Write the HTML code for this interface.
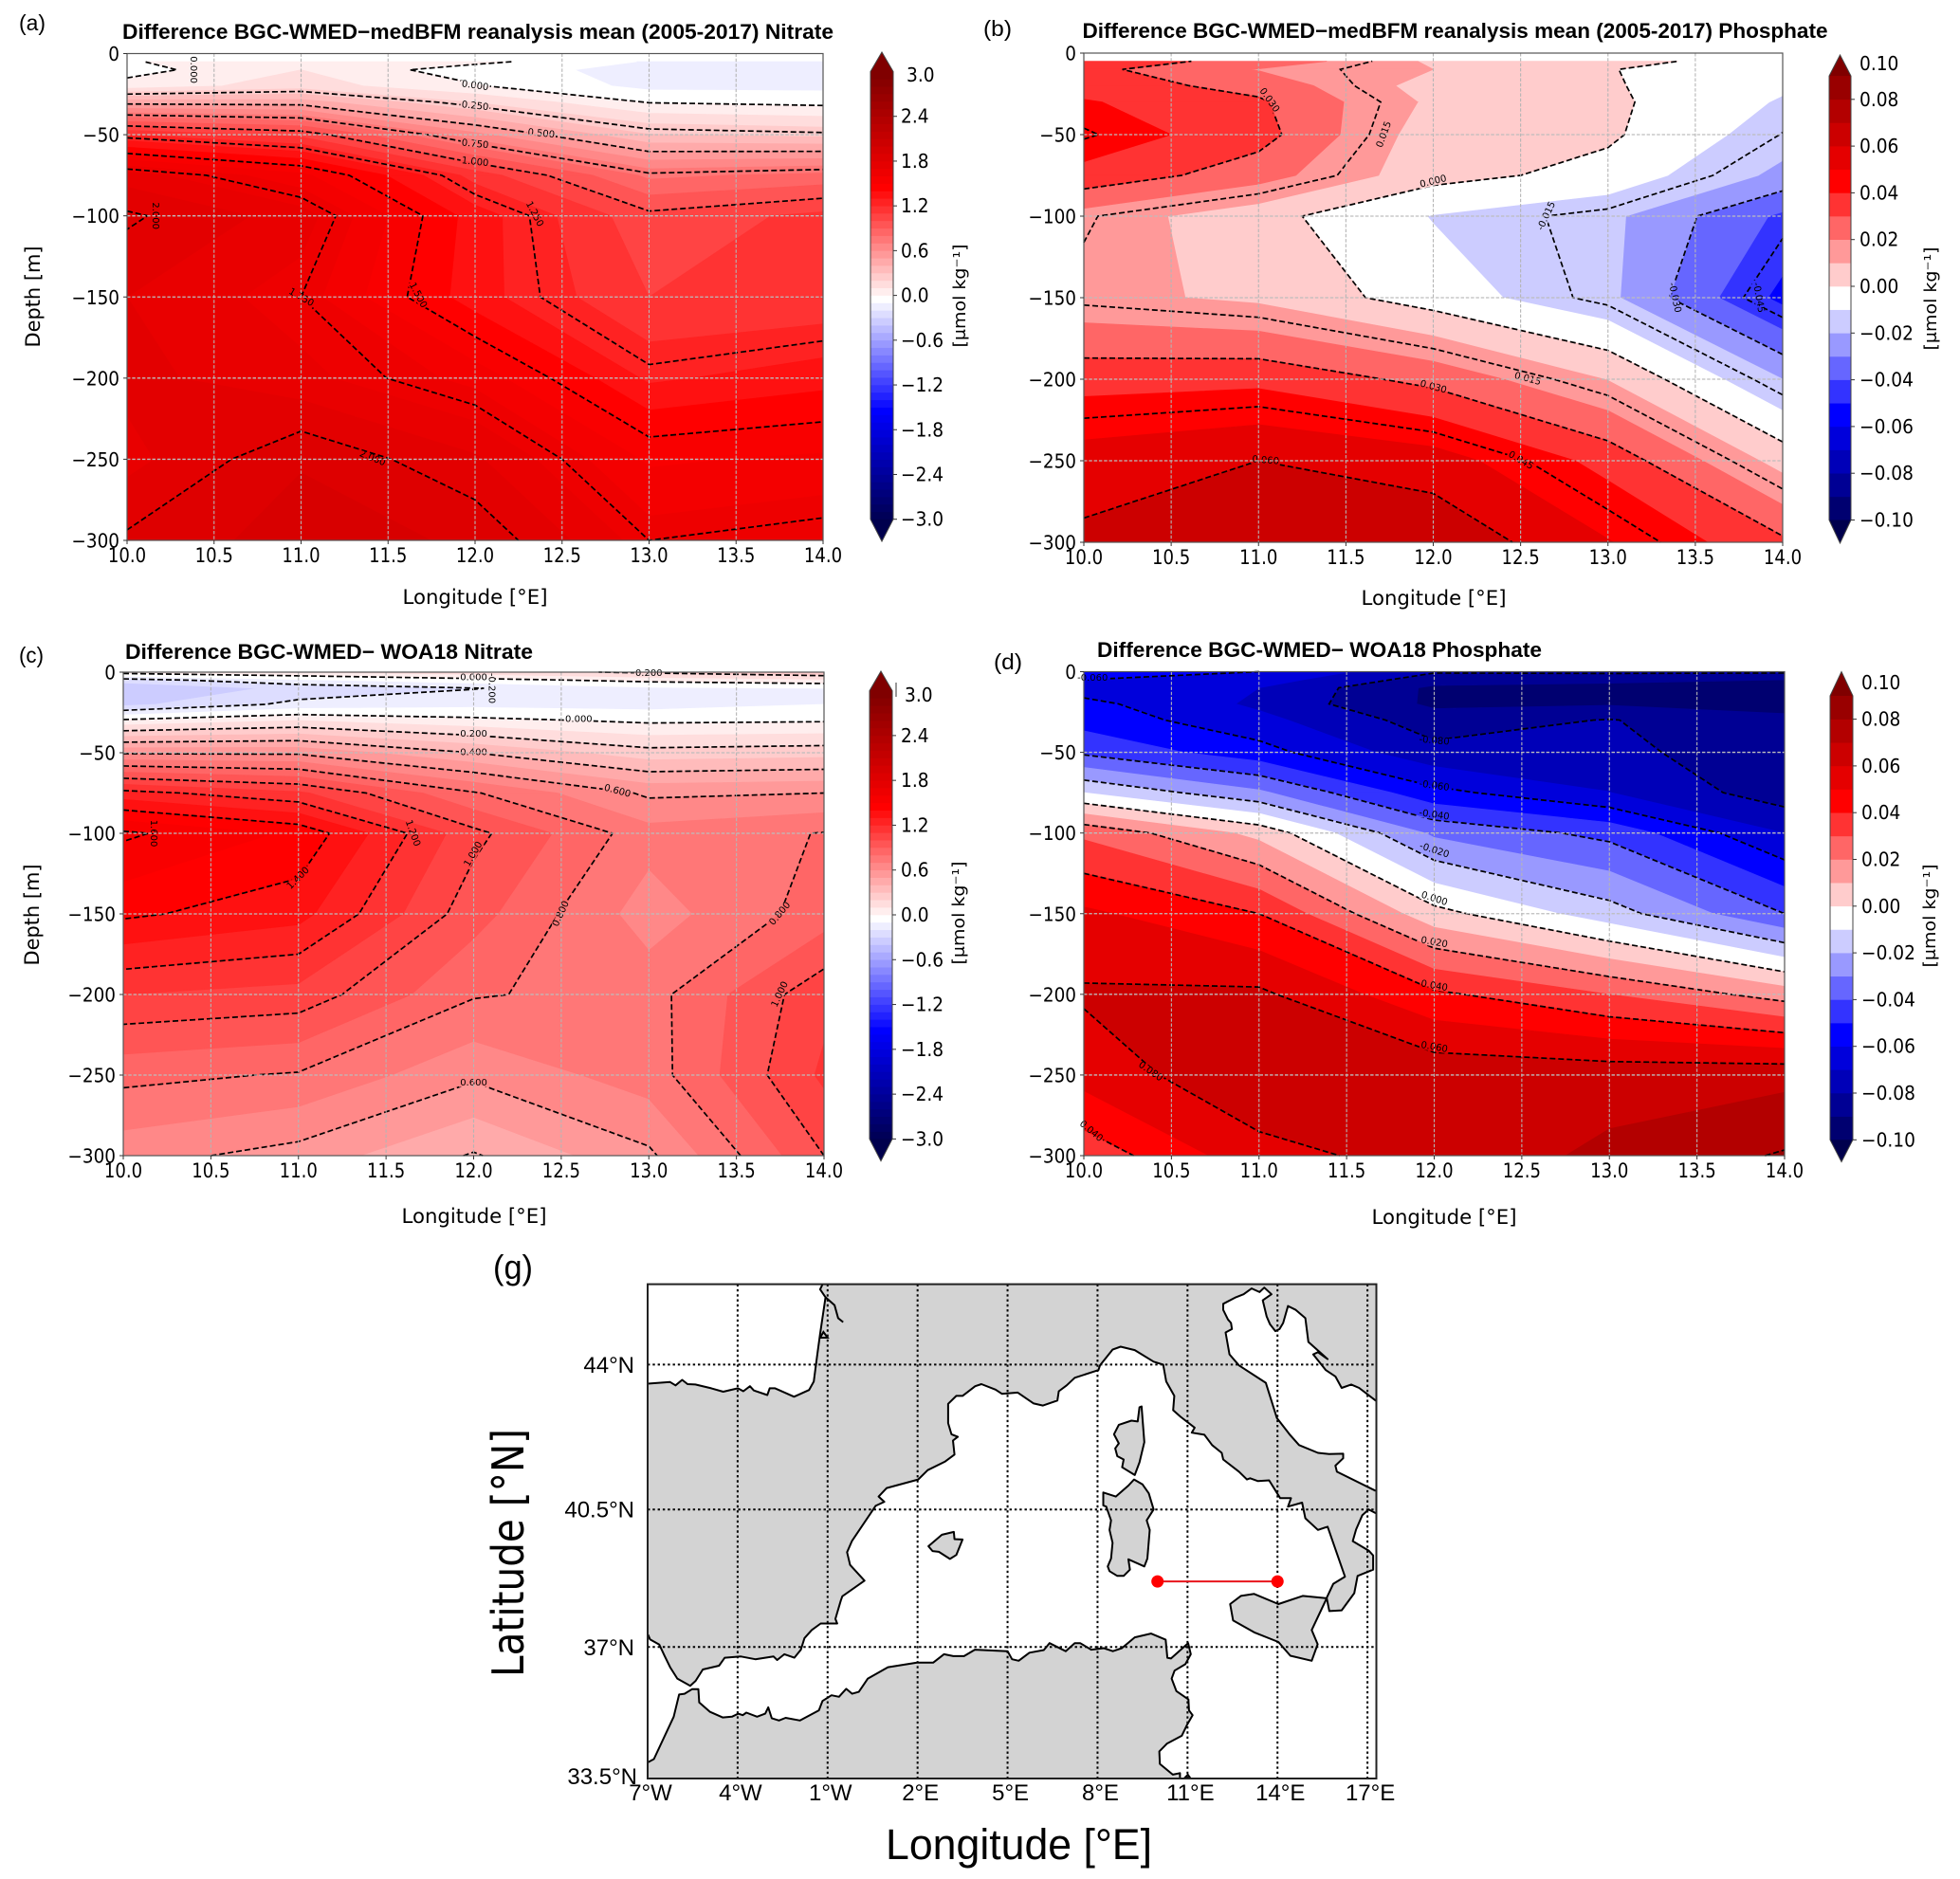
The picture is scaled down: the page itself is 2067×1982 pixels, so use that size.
<!DOCTYPE html>
<html lang="en">
<head>
<meta charset="utf-8">
<title>Nitrate and phosphate difference sections with location map</title>
<style>
html,body{margin:0;padding:0;background:#fff;}
svg{display:block;}
text{fill:#000;}
</style>
</head>
<body>
<svg id="figure" xmlns="http://www.w3.org/2000/svg" width="2067" height="1982" viewBox="0 0 2067 1982">
<rect x="0" y="0" width="2067" height="1982" fill="#fff"/>
<g id="panels"></g>
<g id="map"></g>
<line x1="945" x2="945" y1="720" y2="735" stroke="#333" stroke-width="1"/>

<g font-family="'Liberation Sans',sans-serif" font-weight="bold" font-size="22">
<text x="129" y="41" textLength="750" lengthAdjust="spacingAndGlyphs">Difference BGC-WMED−medBFM reanalysis mean (2005-2017) Nitrate</text>
<text x="1141.5" y="40" textLength="786" lengthAdjust="spacingAndGlyphs">Difference BGC-WMED−medBFM reanalysis mean (2005-2017) Phosphate</text>
<text x="132" y="695" textLength="430" lengthAdjust="spacingAndGlyphs">Difference BGC-WMED− WOA18 Nitrate</text>
<text x="1157" y="693" textLength="469" lengthAdjust="spacingAndGlyphs">Difference BGC-WMED− WOA18 Phosphate</text>
</g>
<g font-family="'Liberation Sans',sans-serif" font-size="23">
<text x="20" y="32" textLength="28" lengthAdjust="spacingAndGlyphs">(a)</text>
<text x="1037" y="38" textLength="30" lengthAdjust="spacingAndGlyphs">(b)</text>
<text x="20" y="699" textLength="26" lengthAdjust="spacingAndGlyphs">(c)</text>
<text x="1048" y="706" textLength="30" lengthAdjust="spacingAndGlyphs">(d)</text>
<text x="520" y="1349" font-size="36" textLength="42" lengthAdjust="spacingAndGlyphs">(g)</text>
</g>
<g font-family="'DejaVu Sans',sans-serif" font-size="21">
<text text-anchor="middle" transform="translate(42,313) rotate(-90)" textLength="107" lengthAdjust="spacingAndGlyphs">Depth [m]</text>
<text text-anchor="middle" transform="translate(41,965) rotate(-90)" textLength="107" lengthAdjust="spacingAndGlyphs">Depth [m]</text>
<text text-anchor="middle" x="501" y="637" textLength="153" lengthAdjust="spacingAndGlyphs">Longitude [°E]</text>
<text text-anchor="middle" x="1512" y="638" textLength="153" lengthAdjust="spacingAndGlyphs">Longitude [°E]</text>
<text text-anchor="middle" x="500" y="1290" textLength="153" lengthAdjust="spacingAndGlyphs">Longitude [°E]</text>
<text text-anchor="middle" x="1523" y="1291" textLength="153" lengthAdjust="spacingAndGlyphs">Longitude [°E]</text>
</g>
<g font-family="'DejaVu Sans',sans-serif" font-size="18">
<text text-anchor="middle" transform="translate(1018,312) rotate(-90)" textLength="109" lengthAdjust="spacingAndGlyphs">[μmol kg⁻¹]</text>
<text text-anchor="middle" transform="translate(2042,315) rotate(-90)" textLength="109" lengthAdjust="spacingAndGlyphs">[μmol kg⁻¹]</text>
<text text-anchor="middle" transform="translate(1017,963) rotate(-90)" textLength="109" lengthAdjust="spacingAndGlyphs">[μmol kg⁻¹]</text>
<text text-anchor="middle" transform="translate(2041,966) rotate(-90)" textLength="109" lengthAdjust="spacingAndGlyphs">[μmol kg⁻¹]</text>
</g>
<text font-family="'Liberation Sans',sans-serif" font-size="45" x="934" y="1961" textLength="281" lengthAdjust="spacingAndGlyphs">Longitude [°E]</text>
<text font-family="'DejaVu Sans',sans-serif" font-size="46" text-anchor="middle" transform="translate(552,1638) rotate(-90)" textLength="262" lengthAdjust="spacingAndGlyphs">Latitude [°N]</text>
</svg>

<script>
/* ---------- section data: rows = depth, columns = longitude ---------- */
const longitudes = [10, 11, 12, 13, 14];
const depthsFromFive = [5, 10, 20, 30, 50, 75, 100, 150, 200, 250, 300];
const depthsFromSurface = [0, 5, 10, 20, 30, 50, 75, 100, 150, 200, 250, 300];

const nitrateReanalysisDiff = [
  [-0.01, 0.09, 0.03, -0.11, -0.11],
  [-0.04, 0.1, -0.06, -0.13, -0.13],
  [0.04, 0.15, 0.01, -0.13, -0.13],
  [0.46, 0.45, 0.196, -0.005, -0.03],
  [1.2, 1.07, 0.63, 0.305, 0.27],
  [1.85, 1.63, 1.16, 0.775, 0.83],
  [2.02, 1.85, 1.35, 1.03, 1.13],
  [1.9, 1.75, 1.34, 1.1, 1.12],
  [1.93, 1.83, 1.667, 1.28, 1.36],
  [1.865, 2.09, 1.917, 1.583, 1.62],
  [2.02, 2.15, 2.083, 1.75, 1.8]
];
const phosphateReanalysisDiff = [
  [0.034, 0.0275, 0.0083, 0.002, -0.003],
  [0.033, 0.0194, 0.01, 0.0004, -0.006],
  [0.035, 0.0267, 0.0054, 0.001, -0.0085],
  [0.041, 0.0315, 0.0079, 0.002, -0.011],
  [0.046, 0.034, 0.004, 0.0016, -0.0153],
  [0.037, 0.0245, 0.0034, -0.0034, -0.0227],
  [0.016, 0.0035, -0.0105, -0.0175, -0.042],
  [0.0129, 0.0079, -0.005, -0.0175, -0.053],
  [0.036, 0.0374, 0.027, 0.0096, -0.02],
  [0.0548, 0.06, 0.0548, 0.0366, 0.006],
  [0.0622, 0.069, 0.0678, 0.0506, 0.032]
];
const nitrateWoaDiff = [
  [0.05, 0.1, 0.15, 0.22, 0.3],
  [-0.25, -0.12, -0.04, 0.03, 0.07],
  [-0.4, -0.27, -0.205, -0.12, -0.1],
  [-0.33, -0.17, -0.13, -0.14, -0.1],
  [0.02, 0.1, 0.03, -0.02, -0.01],
  [0.585, 0.58, 0.4, 0.24, 0.26],
  [1.24, 1.12, 0.81, 0.58, 0.6],
  [1.62, 1.48, 1.03, 0.74, 0.805],
  [1.42, 1.337, 0.94, 0.65, 0.85],
  [1.1, 1.063, 0.81, 0.76, 1.07],
  [0.83, 0.79, 0.62, 0.75, 1.12],
  [0.64, 0.56, 0.39, 0.58, 1.0]
];
const phosphateWoaDiff = [
  [-0.052, -0.06, -0.079, -0.078, -0.078],
  [-0.06, -0.065, -0.085, -0.087, -0.09],
  [-0.065, -0.07, -0.092, -0.094, -0.095],
  [-0.057, -0.072, -0.092, -0.091, -0.093],
  [-0.054, -0.067, -0.085, -0.0795, -0.088],
  [-0.042, -0.056, -0.077, -0.0766, -0.088],
  [-0.01, -0.028, -0.057, -0.0698, -0.0855],
  [0.028, 0.007, -0.032, -0.043, -0.07],
  [0.052, 0.04, 0.0035, -0.0155, -0.04],
  [0.0613, 0.062, 0.042, 0.03, 0.0155],
  [0.054, 0.068, 0.067, 0.066, 0.067],
  [0.0334, 0.0566, 0.064, 0.072, 0.081]
];

const lineLevelsA = [0, 0.25, 0.5, 0.75, 1, 1.25, 1.5, 1.75, 2];
const lineLevelsB = [-0.045, -0.03, -0.015, 0, 0.015, 0.03, 0.045, 0.06];
const lineLevelsC = [-0.2, 0, 0.2, 0.4, 0.6, 0.8, 1, 1.2, 1.4, 1.6];
const lineLevelsD = [-0.08, -0.06, -0.04, -0.02, 0, 0.02, 0.04, 0.06, 0.08];

/* printed contour labels: text, longitude, depth, rotation in degrees */
const contourLabelsA = [
  ['0.000', 10.38, 10, 90], ['0.000', 12, 20, 8], ['0.250', 12, 32.5, 6], ['0.500', 12.38, 49.5, 6],
  ['0.750', 12, 56, 6], ['1.000', 12, 67, 6], ['1.250', 12.34, 99, 62], ['1.500', 11.67, 149, 62],
  ['1.750', 11, 150.5, 30], ['2.000', 10.16, 100, 90], ['2.000', 11.41, 249.6, 22]
];
const contourLabelsB = [
  ['0.030', 11.06, 29, 55], ['0.015', 11.72, 50, -70], ['0.000', 12, 79, -14], ['-0.015', 12.65, 100, -65],
  ['-0.030', 13.38, 150, 78], ['-0.045', 13.86, 150, 80], ['0.015', 12.54, 200, 15], ['0.030', 12, 205, 15],
  ['0.045', 12.5, 250, 30], ['0.060', 11.04, 250, 5]
];
const contourLabelsC = [
  ['0.000', 12, 3.5, 0], ['-0.200', 12.1, 10, 90], ['0.200', 13, 1, 0], ['0.000', 12.6, 29.5, 0],
  ['0.200', 12, 38.5, 0], ['0.400', 12, 50, 0], ['0.600', 12.82, 74, 15], ['1.600', 10.17, 100, 90],
  ['1.400', 11, 128, -45], ['1.200', 11.65, 100, 70], ['1.000', 12, 113, -60], ['0.800', 12.5, 150, -65],
  ['0.800', 13.75, 150, -50], ['1.000', 13.75, 200, -65], ['0.600', 12, 255, 0]
];
const contourLabelsD = [
  ['-0.060', 10.05, 4, 0], ['-0.080', 12, 43, 5], ['-0.060', 12, 71, 8], ['-0.040', 12, 89, 8],
  ['-0.020', 12, 111, 18], ['0.000', 12, 141, 18], ['0.020', 12, 168, 10], ['0.040', 12, 195, 10],
  ['0.060', 12, 233, 10], ['0.080', 10.38, 248, 35], ['0.040', 10.04, 285, 40]
];

const lonTickValues = [10, 10.5, 11, 11.5, 12, 12.5, 13, 13.5, 14];
const depthTickValues = [0, 50, 100, 150, 200, 250, 300];
const nitrateBarTicks = [3, 2.4, 1.8, 1.2, 0.6, 0, -0.6, -1.2, -1.8, -2.4, -3];
const phosphateBarTicks = [0.1, 0.08, 0.06, 0.04, 0.02, 0, -0.02, -0.04, -0.06, -0.08, -0.1];

/* ---------- map data in degrees ---------- */
const mapLonTicks = [-7, -4, -1, 2, 5, 8, 11, 14, 17];
const mapLatTicks = [44, 40.5, 37, 33.5];
const transectLons = [10, 14];
const transectLats = [38.69, 38.69];

const coastEurope = [[-8,43.55],[-6.99,43.55],[-6.25,43.59],[-6.07,43.51],[-5.85,43.64],[-5.67,43.54],[-5.41,43.53],[-4.88,43.44],[-4.48,43.36],[-3.99,43.44],[-3.81,43.37],[-3.59,43.49],[-3.46,43.39],[-3.01,43.28],[-2.93,43.44],[-2.75,43.44],[-2.12,43.24],[-1.62,43.4],[-1.46,43.6],[-1.35,44.2],[-1.25,44.72],[-1.07,45.56],[-1.25,45.74],[-1.14,45.9],[-1.14,46.5],[18,46.5],[18,43.15],[17.27,43.15],[16.72,43.45],[16.46,43.53],[16.14,43.45],[15.93,43.72],[15.61,43.87],[15.19,44.24],[15.35,44.29],[15.67,44.13],[15.03,44.53],[14.93,45.08],[14.61,45.27],[14.35,45.36],[14.19,44.97],[14.07,44.83],[13.93,44.78],[13.75,44.94],[13.64,45.12],[13.51,45.49],[13.8,45.63],[13.56,45.78],[13.4,45.68],[13.14,45.76],[12.87,45.63],[12.61,45.56],[12.19,45.41],[12.19,45.27],[12.35,45.05],[12.45,44.97],[12.48,44.83],[12.27,44.75],[12.4,44.24],[12.72,43.98],[13.61,43.57],[13.98,42.73],[14.4,42.34],[14.72,42.08],[15.35,41.89],[15.72,41.86],[16.19,41.87],[16.19,41.76],[15.93,41.58],[15.98,41.43],[17.25,40.97],[18,40.97],[18,40.4],[17.3,40.4],[17.04,40.5],[16.83,40.36],[16.62,40],[16.51,39.71],[17.04,39.47],[17.19,39.35],[17.19,38.99],[16.67,38.83],[16.56,38.39],[16.14,37.95],[15.73,37.93],[15.64,38.27],[15.86,38.63],[16.25,38.81],[15.67,40.07],[15.35,39.99],[14.93,40.28],[14.82,40.67],[14.35,40.57],[14.45,40.78],[14.09,40.78],[13.72,41.22],[13.35,41.2],[13.09,41.27],[12.98,41.24],[12.72,41.43],[12.19,41.73],[12.14,41.89],[11.82,42.08],[11.56,42.33],[11.14,42.38],[11.24,42.5],[10.77,42.76],[10.52,42.92],[10.56,43.26],[10.29,43.6],[10.19,44],[9.87,44.07],[9.24,44.34],[8.77,44.42],[8.5,44.35],[8.08,43.98],[8.03,43.87],[7.24,43.69],[6.97,43.51],[6.71,43.37],[6.66,43.15],[6.18,43.03],[5.87,43.08],[5.34,43.34],[4.81,43.31],[4.6,43.41],[4.13,43.54],[3.92,43.49],[3.5,43.26],[3.29,43.26],[3.02,43.07],[3.02,42.61],[3.13,42.34],[3.34,42.28],[3.18,42.19],[3.23,41.85],[2.92,41.68],[2.34,41.47],[2.02,41.24],[0.97,41.03],[0.7,40.82],[0.89,40.69],[0.6,40.59],[-0.19,39.71],[-0.35,39.43],[-0.25,39.11],[0.23,38.71],[-0.51,38.31],[-0.56,38.2],[-0.74,37.73],[-0.68,37.61],[-1.23,37.61],[-1.53,37.44],[-1.77,37.23],[-1.89,36.93],[-2.11,36.72],[-2.44,36.81],[-2.68,36.66],[-2.8,36.75],[-3.41,36.68],[-3.89,36.75],[-4.43,36.72],[-4.62,36.51],[-5.16,36.41],[-5.4,36.11],[-5.58,35.98],[-6.01,36.17],[-6.25,36.47],[-6.43,36.76],[-6.61,37.06],[-6.92,37.2],[-6.98,37.31],[-8,37.31]];
const coastAfrica = [[-8,33.94],[-6.98,33.94],[-6.79,34.02],[-6.13,35.16],[-5.95,35.75],[-5.77,35.77],[-5.52,35.89],[-5.31,35.89],[-5.28,35.54],[-4.92,35.29],[-4.5,35.14],[-4.19,35.16],[-3.98,35.24],[-3.83,35.2],[-3.71,35.27],[-3.35,35.16],[-3.08,35.24],[-2.98,35.41],[-2.86,35.12],[-2.62,35.06],[-2.4,35.13],[-1.92,35.06],[-1.29,35.33],[-1.17,35.58],[-0.87,35.73],[-0.62,35.69],[-0.38,35.9],[-0.18,35.77],[0.04,35.82],[0.34,36.17],[1.01,36.47],[1.98,36.59],[2.52,36.59],[2.88,36.81],[3.19,36.76],[3.55,36.76],[3.91,36.93],[5,36.89],[5.15,36.68],[5.37,36.64],[5.73,36.85],[6.21,36.92],[6.4,37.1],[6.94,36.89],[7.24,37.1],[7.42,37.1],[7.79,36.93],[8.21,36.97],[8.51,36.89],[8.81,36.97],[9.24,37.25],[9.78,37.35],[10.27,37.19],[10.33,36.72],[10.45,36.7],[11.02,37.1],[11.11,36.81],[10.93,36.55],[10.57,36.38],[10.47,36.17],[10.63,35.84],[11.03,35.62],[11.05,35.33],[11.17,35.2],[10.99,34.95],[10.81,34.65],[10.32,34.44],[10.06,34.23],[10.08,33.89],[10.51,33.6],[10.75,33.64],[10.75,33],[-8,33]];
const coastCorsica = [[9.4,42.99],[9.47,43.01],[9.56,42.15],[9.4,41.66],[9.24,41.35],[8.82,41.54],[8.87,41.73],[8.66,41.81],[8.59,42],[8.71,42.12],[8.55,42.34],[8.71,42.57],[9.13,42.67],[9.34,42.65]];
const coastSardinia = [[9.22,41.24],[9.5,41.12],[9.71,40.9],[9.87,40.5],[9.64,40.23],[9.74,39.99],[9.66,39.27],[9.56,39.07],[9.03,39.25],[9.08,38.99],[8.87,38.83],[8.66,38.83],[8.4,38.95],[8.34,39.07],[8.45,39.27],[8.5,39.67],[8.4,39.99],[8.45,40.23],[8.29,40.57],[8.19,40.6],[8.19,40.92],[8.61,40.82],[9.03,41.09]];
const coastMallorca = [[2.36,39.58],[2.81,39.87],[3.21,39.94],[3.23,39.76],[3.5,39.75],[3.29,39.36],[3.08,39.26],[2.71,39.44],[2.5,39.46]];
const coastSicily = [[12.42,38.11],[12.78,38.32],[13.22,38.37],[14.03,38.11],[14.84,38.32],[15.64,38.26],[15.14,37.44],[15.34,37.07],[15.14,36.64],[14.43,36.77],[14.03,37.13],[13.22,37.38],[12.52,37.69]];
const coastDjerba = [[10.89,33.5],[11.01,33.6],[11.1,33.5]];
const estuaryGironde = [[-1.07,45.56],[-0.77,45.38],[-0.65,45.08],[-0.48,44.99]];
const lagoonArcachon = [[-1.25,44.63],[-1.14,44.76],[-1,44.63],[-1.25,44.63]];

/* ---------- helpers ---------- */
const NS = 'http://www.w3.org/2000/svg';
function make(tag, attrs, parent) {
  const el = document.createElementNS(NS, tag);
  for (const key in attrs) el.setAttribute(key, attrs[key]);
  parent.appendChild(el);
  return el;
}
function seismic(t) {
  t = Math.max(0, Math.min(1, t));
  let r, g, b;
  if (t < 0.25) { r = 0; g = 0; b = 0.3 + 0.7 * t / 0.25; }
  else if (t < 0.5) { const u = (t - 0.25) / 0.25; r = u; g = u; b = 1; }
  else if (t < 0.75) { const u = (t - 0.5) / 0.25; r = 1; g = 1 - u; b = 1 - u; }
  else { const u = (t - 0.75) / 0.25; r = 1 - 0.5 * u; g = 0; b = 0; }
  return 'rgb(' + Math.round(r * 255) + ',' + Math.round(g * 255) + ',' + Math.round(b * 255) + ')';
}
function bandColor(k, steps) { return seismic(0.5 + k / (2 * steps)); }
function fillColor(k, steps, warmFactor) {
  const half = steps / 2;
  const shown = k > half ? half + (k - half) * warmFactor : k;
  return bandColor(shown, steps);
}
function clipByLevel(poly, level, keepAbove) {
  const out = [];
  for (let i = 0; i < poly.length; i++) {
    const a = poly[i], b = poly[(i + 1) % poly.length];
    const aIn = keepAbove ? a.v >= level : a.v < level;
    const bIn = keepAbove ? b.v >= level : b.v < level;
    if (aIn) out.push(a);
    if (aIn !== bIn) {
      const t = (level - a.v) / (b.v - a.v);
      out.push({ lon: a.lon + t * (b.lon - a.lon), d: a.d + t * (b.d - a.d), v: level });
    }
  }
  return out;
}
function edgeCross(a, b, level) {
  if ((a.v >= level) === (b.v >= level)) return null;
  const t = (level - a.v) / (b.v - a.v);
  return { lon: a.lon + t * (b.lon - a.lon), d: a.d + t * (b.d - a.d) };
}
function chainSegments(segs) {
  const key = p => p.lon.toFixed(4) + '_' + p.d.toFixed(3);
  const index = {};
  segs.forEach((s, i) => {
    [s[0], s[1]].forEach(p => { (index[key(p)] = index[key(p)] || []).push(i); });
  });
  const used = segs.map(() => false);
  const lines = [];
  function grow(line) {
    for (;;) {
      const end = line[line.length - 1];
      const next = (index[key(end)] || []).find(i => !used[i]);
      if (next === undefined) return;
      used[next] = true;
      const s = segs[next];
      line.push(key(s[0]) === key(end) ? s[1] : s[0]);
    }
  }
  segs.forEach((s, i) => {
    if (used[i]) return;
    used[i] = true;
    const line = [s[0], s[1]];
    grow(line);
    line.reverse();
    grow(line);
    lines.push(line);
  });
  return lines;
}
function minusSign(s) { return s.replace('-', '\u2212'); }
function drawLabel(parent, str, x, y, anchor, size, sx, family) {
  const el = make('text', {
    'text-anchor': anchor,
    'font-size': size,
    'font-family': family,
    transform: 'translate(' + x + ',' + y + ') scale(' + sx + ',1)'
  }, parent);
  el.textContent = str;
  return el;
}
const DEJAVU = "'DejaVu Sans',sans-serif";
const LIBERATION = "'Liberation Sans',sans-serif";

/* ---------- section panel ---------- */
function drawPanel(cfg) {
  const root = document.getElementById('panels');
  const g = make('g', {}, root);
  
  

  const xScale = lon => cfg.x0 + (lon - 10) / 4 * (cfg.x1 - cfg.x0);
  const yScale = d => cfg.y0 + d / 300 * (cfg.y1 - cfg.y0);
  const px = p => xScale(p.lon).toFixed(2) + ' ' + yScale(p.d).toFixed(2);

  /* filled bands */
  let lo = Infinity, hi = -Infinity;
  cfg.values.forEach(row => row.forEach(v => { lo = Math.min(lo, v); hi = Math.max(hi, v); }));
  const kMin = Math.floor(lo / cfg.step) + 1, kMax = Math.floor(hi / cfg.step) + 1;
  for (let k = kMin; k <= kMax; k++) {
    const low = (k - 1) * cfg.step, high = k * cfg.step;
    let d = '';
    for (let j = 0; j < cfg.depths.length - 1; j++) {
      for (let i = 0; i < longitudes.length - 1; i++) {
        let poly = [
          { lon: longitudes[i], d: cfg.depths[j], v: cfg.values[j][i] },
          { lon: longitudes[i + 1], d: cfg.depths[j], v: cfg.values[j][i + 1] },
          { lon: longitudes[i + 1], d: cfg.depths[j + 1], v: cfg.values[j + 1][i + 1] },
          { lon: longitudes[i], d: cfg.depths[j + 1], v: cfg.values[j + 1][i] }
        ];
        poly = clipByLevel(clipByLevel(poly, low, true), high, false);
        if (poly.length >= 3) d += 'M' + poly.map(px).join('L') + 'Z';
      }
    }
    if (!d) continue;
    const color = fillColor(k, cfg.bands, cfg.warmFactor);
    const band = make('path', { d: d, fill: color, stroke: color, 'stroke-width': 0.7 }, g);
    
    
  }

  /* label gaps in the contour lines */
  const mask = make('mask', { id: cfg.id + '-gap', maskUnits: 'userSpaceOnUse', x: 0, y: 0, width: 2067, height: 1982 }, g);
  make('rect', { x: 0, y: 0, width: 2067, height: 1982, fill: '#fff' }, mask);
  cfg.labels.forEach(item => {
    const w = item[0].length * 6.2;
    make('rect', {
      x: -w / 2, y: -4, width: w, height: 8, fill: '#000',
      transform: 'translate(' + xScale(item[1]) + ',' + yScale(item[2]) + ') rotate(' + item[3] + ')'
    }, mask);
  });

  /* contour lines (marching squares) */
  const lineGroup = make('g', { mask: 'url(#' + cfg.id + '-gap)' }, g);
  
  
  cfg.levels.forEach(level => {
    const segs = [];
    for (let j = 0; j < cfg.depths.length - 1; j++) {
      for (let i = 0; i < longitudes.length - 1; i++) {
        const a = { lon: longitudes[i], d: cfg.depths[j], v: cfg.values[j][i] };
        const b = { lon: longitudes[i + 1], d: cfg.depths[j], v: cfg.values[j][i + 1] };
        const c = { lon: longitudes[i + 1], d: cfg.depths[j + 1], v: cfg.values[j + 1][i + 1] };
        const e = { lon: longitudes[i], d: cfg.depths[j + 1], v: cfg.values[j + 1][i] };
        const top = edgeCross(a, b, level), right = edgeCross(b, c, level);
        const bottom = edgeCross(e, c, level), left = edgeCross(a, e, level);
        const hits = [top, right, bottom, left].filter(Boolean);
        if (hits.length === 2) segs.push([hits[0], hits[1]]);
        else if (hits.length === 4) {
          const mean = (a.v + b.v + c.v + e.v) / 4;
          if ((mean >= level) === (a.v >= level)) { segs.push([top, right]); segs.push([bottom, left]); }
          else { segs.push([top, left]); segs.push([bottom, right]); }
        }
      }
    }
    const lines = chainSegments(segs);
    if (!lines.length) return;
    const d = lines.map(line => 'M' + line.map(px).join('L')).join('');
    const path = make('path', { d: d, fill: 'none', stroke: '#000', 'stroke-width': 1.7, 'stroke-dasharray': '6 3' }, lineGroup);
    
    
  });

  /* contour labels */
  cfg.labels.forEach(item => {
    const t = make('text', {
      'text-anchor': 'middle', 'font-size': 10, 'font-family': DEJAVU, 'dominant-baseline': 'central',
      transform: 'translate(' + xScale(item[1]) + ',' + yScale(item[2]) + ') rotate(' + item[3] + ')'
    }, g);
    t.textContent = item[0];
    
    
  });

  /* grid */
  lonTickValues.forEach(lon => {
    if (lon === 10 || lon === 14) return;
    const line = make('line', { x1: xScale(lon), x2: xScale(lon), y1: cfg.y0, y2: cfg.y1, stroke: '#b5b5b5', 'stroke-width': 1.1, 'stroke-dasharray': '3.5 1.8' }, g);
    
    
  });
  depthTickValues.forEach(dep => {
    if (dep === 0 || dep === 300) return;
    const line = make('line', { x1: cfg.x0, x2: cfg.x1, y1: yScale(dep), y2: yScale(dep), stroke: '#bdbdbd', 'stroke-width': 1.3, 'stroke-dasharray': '3.5 1.8' }, g);
    
    
  });

  /* frame */
  const frame = make('rect', { x: cfg.x0, y: cfg.y0, width: cfg.x1 - cfg.x0, height: cfg.y1 - cfg.y0, fill: 'none', stroke: '#555', 'stroke-width': 1.2 }, g);
  
  

  /* axis ticks */
  lonTickValues.forEach(lon => {
    make('line', { x1: xScale(lon), x2: xScale(lon), y1: cfg.y1, y2: cfg.y1 + 4, stroke: '#333', 'stroke-width': 1 }, g);
    const t = drawLabel(g, lon.toFixed(1), xScale(lon), cfg.y1 + 23, 'middle', 21, 0.86, DEJAVU);
    
    
  });
  depthTickValues.forEach(dep => {
    make('line', { x1: cfg.x0 - 4, x2: cfg.x0, y1: yScale(dep), y2: yScale(dep), stroke: '#333', 'stroke-width': 1 }, g);
    const str = dep === 0 ? '0' : '\u2212' + dep;
    const t = drawLabel(g, str, cfg.x0 - 8, yScale(dep) + 7.5, 'end', 20, 0.92, DEJAVU);
    
    
  });

  /* colorbar */
  const bar = cfg.bar;
  const barY = v => bar.zero - v * bar.perUnit;
  const barGroup = make('g', {}, g);
  
  
  for (let k = -cfg.bands + 1; k <= cfg.bands; k++) {
    const low = (k - 1) * cfg.step, high = k * cfg.step;
    if (low >= bar.topValue - 1e-9) continue;
    const swatch = make('rect', { x: bar.x, y: barY(high) - 0.3, width: bar.w, height: barY(low) - barY(high) + 0.6, fill: bandColor(k, cfg.bands) }, barGroup);
    
    
    if (high >= bar.topValue - 1e-9) swatch.setAttribute('y', barY(bar.topValue) - 0.3);
    if (high >= bar.topValue - 1e-9) swatch.setAttribute('height', barY(low) - barY(bar.topValue) + 0.6);
  }
  const yTop = barY(bar.topValue), yBottom = barY(-cfg.bands * cfg.step);
  const midX = bar.x + bar.w / 2;
  const upper = make('polygon', { points: bar.x + ',' + yTop + ' ' + midX + ',' + bar.tipTop + ' ' + (bar.x + bar.w) + ',' + yTop, fill: seismic(1) }, barGroup);
  
  
  const lower = make('polygon', { points: bar.x + ',' + yBottom + ' ' + midX + ',' + bar.tipBottom + ' ' + (bar.x + bar.w) + ',' + yBottom, fill: seismic(0) }, barGroup);
  
  
  const outline = make('path', {
    d: 'M' + bar.x + ' ' + yTop + 'L' + midX + ' ' + bar.tipTop + 'L' + (bar.x + bar.w) + ' ' + yTop + 'L' + (bar.x + bar.w) + ' ' + yBottom + 'L' + midX + ' ' + bar.tipBottom + 'L' + bar.x + ' ' + yBottom + 'Z',
    fill: 'none', stroke: '#444', 'stroke-width': 1
  }, barGroup);
  
  
  cfg.barTicks.forEach((v, idx) => {
    const isTop = idx === 0;
    const y = isTop ? bar.topLabelY : barY(v);
    if (!isTop) make('line', { x1: bar.x + bar.w, x2: bar.x + bar.w + 4, y1: barY(v), y2: barY(v), stroke: '#333', 'stroke-width': 1 }, barGroup);
    const t = drawLabel(barGroup, minusSign(v.toFixed(bar.decimals)), isTop ? bar.topLabelX : bar.labelX, y + 7, 'start', 20, 0.93, DEJAVU);
    
    
  });
}

drawPanel({
  id: 'a', name: 'panel-a-nitrate-reanalysis', x0: 134, x1: 868, y0: 56.5, y1: 570,
  values: nitrateReanalysisDiff, depths: depthsFromFive, levels: lineLevelsA, labels: contourLabelsA,
  step: 0.1, bands: 30, warmFactor: 0.65, barTicks: nitrateBarTicks,
  bar: { x: 918, w: 24, zero: 311.6, perUnit: 78.7, topValue: 3, tipTop: 55, tipBottom: 571, labelX: 950, topLabelX: 956, topLabelY: 79, decimals: 1 }
});
drawPanel({
  id: 'b', name: 'panel-b-phosphate-reanalysis', x0: 1143, x1: 1880, y0: 56, y1: 572,
  values: phosphateReanalysisDiff, depths: depthsFromFive, levels: lineLevelsB, labels: contourLabelsB,
  step: 0.01, bands: 10, warmFactor: 1, barTicks: phosphateBarTicks,
  bar: { x: 1929, w: 23, zero: 302, perUnit: 2465, topValue: 0.09, tipTop: 58, tipBottom: 573, labelX: 1961, topLabelX: 1961, topLabelY: 67, decimals: 2 }
});
drawPanel({
  id: 'c', name: 'panel-c-nitrate-woa18', x0: 130, x1: 869, y0: 709, y1: 1219,
  values: nitrateWoaDiff, depths: depthsFromSurface, levels: lineLevelsC, labels: contourLabelsC,
  step: 0.1, bands: 30, warmFactor: 0.65, barTicks: nitrateBarTicks,
  bar: { x: 917, w: 24, zero: 965, perUnit: 78.8, topValue: 3, tipTop: 708, tipBottom: 1224.7, labelX: 950, topLabelX: 954, topLabelY: 733, decimals: 1 }
});
drawPanel({
  id: 'd', name: 'panel-d-phosphate-woa18', x0: 1143, x1: 1882, y0: 708.5, y1: 1219,
  values: phosphateWoaDiff, depths: depthsFromSurface, levels: lineLevelsD, labels: contourLabelsD,
  step: 0.01, bands: 10, warmFactor: 1, barTicks: phosphateBarTicks,
  bar: { x: 1930, w: 24, zero: 955.8, perUnit: 2465, topValue: 0.09, tipTop: 708.5, tipBottom: 1225.5, labelX: 1963, topLabelX: 1963, topLabelY: 720, decimals: 2 }
});

/* ---------- map ---------- */
(function drawMap() {
  const root = document.getElementById('map');
  const left = 683, right = 1451.5, top = 1354.6, bottom = 1876;
  const merc = lat => Math.log(Math.tan(Math.PI / 4 + lat * Math.PI / 360));
  const mapX = lon => 683 + (lon + 7) * 31.63;
  const mapY = lat => 1439.4 + (merc(44) - merc(lat)) * 1851;
  const toPath = (pts, close) => 'M' + pts.map(p => mapX(p[0]).toFixed(1) + ' ' + mapY(p[1]).toFixed(1)).join('L') + (close ? 'Z' : '');

  const clip = make('clipPath', { id: 'map-clip' }, root);
  make('rect', { x: left, y: top, width: right - left, height: bottom - top }, clip);

  const body = make('g', { 'clip-path': 'url(#map-clip)' }, root);
  
  

  [coastEurope, coastAfrica, coastCorsica, coastSardinia, coastMallorca, coastSicily, coastDjerba].forEach(pts => {
    const land = make('path', { d: toPath(pts, true), fill: '#d3d3d3', stroke: '#000', 'stroke-width': 2, 'stroke-linejoin': 'round' }, body);
    
    
  });
  [estuaryGironde, lagoonArcachon].forEach(pts => {
    const water = make('path', { d: toPath(pts, false), fill: 'none', stroke: '#000', 'stroke-width': 2 }, body);
    
    
  });

  mapLonTicks.forEach(lon => {
    if (lon === -7) return;
    const line = make('line', { x1: mapX(lon), x2: mapX(lon), y1: top, y2: bottom, stroke: '#000', 'stroke-width': 2, 'stroke-dasharray': '2.4 2.9' }, body);
    
    
  });
  mapLatTicks.forEach(lat => {
    if (lat === 33.5) return;
    const line = make('line', { x1: left, x2: right, y1: mapY(lat), y2: mapY(lat), stroke: '#000', 'stroke-width': 2, 'stroke-dasharray': '2.4 2.9' }, body);
    
    
  });

  const transect = make('line', {
    x1: mapX(transectLons[0]), x2: mapX(transectLons[1]),
    y1: mapY(transectLats[0]), y2: mapY(transectLats[1]),
    stroke: '#e8141c', 'stroke-width': 2
  }, body);
  
  
  transectLons.forEach((lon, i) => {
    const dot = make('circle', { cx: mapX(lon), cy: mapY(transectLats[i]), r: 6.5, fill: '#f00' }, body);
    
    
  });

  const frame = make('rect', { x: left, y: top, width: right - left, height: bottom - top, fill: 'none', stroke: '#222', 'stroke-width': 2 }, root);
  
  

  mapLonTicks.forEach(lon => {
    const str = Math.abs(lon) + '\u00b0' + (lon < 0 ? 'W' : 'E');
    const t = drawLabel(root, str, mapX(lon) + 3, 1899, 'middle', 24, 1, LIBERATION);
    
    
  });
  mapLatTicks.forEach(lat => {
    const isEdge = lat === 33.5;
    const str = lat + '\u00b0N';
    const t = drawLabel(root, str, isEdge ? 672 : 669, mapY(lat) + (isEdge ? 6 : 8.5), 'end', 24, 1, LIBERATION);
    
    
  });
})();
</script>
</body>
</html>
